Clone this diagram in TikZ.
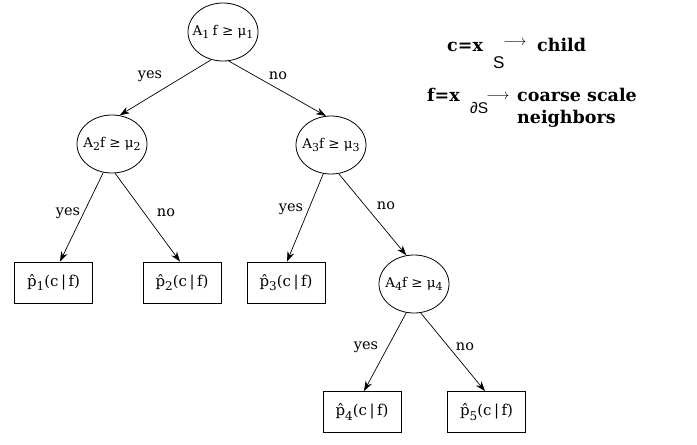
\documentclass[tikz,border=0pt]{standalone}
\usepackage{fontspec}
\setmainfont{DejaVu Serif}
\newfontfamily\sansf{Liberation Sans}
\newfontfamily\boldserif{DejaVu Serif}
\usetikzlibrary{arrows.meta,shapes.geometric}
\newcommand{\lsub}[1]{\raisebox{-0.45ex}{\fontsize{11}{11}\selectfont #1}}
\newcommand{\phat}[1]{\^{p}\raisebox{-0.6ex}{\fontsize{12}{12}\selectfont #1}(c\,|\,f)}
\newcommand{\ctext}[1]{\makebox[0pt]{#1}}
\begin{document}
\begin{tikzpicture}[x=1pt,y=-1pt,
  test/.style={draw,line width=0.8pt,ellipse,minimum width=70pt,minimum height=58pt,inner sep=0pt,font=\fontsize{13.5}{14}\selectfont},
  leaf/.style={draw,line width=0.8pt,rectangle,minimum width=78pt,minimum height=41pt,inner sep=0pt,font=\fontsize{15}{16}\selectfont},
  edge/.style={-{Stealth[length=10pt,width=7pt]},line width=0.7pt},
  lab/.style={font=\fontsize{14.5}{15}\selectfont},
  rt/.style={font=\fontsize{17.5}{19}\selectfont\boldserif\bfseries,anchor=base west,inner sep=0pt},
  rs/.style={font=\fontsize{17}{17}\selectfont\sansf,anchor=base west,inner sep=0pt},
  ra/.style={font=\fontsize{15}{15}\selectfont,anchor=center,inner sep=0pt}]
\useasboundingbox (0,0) rectangle (697,445);
\node[test] (n1) at (223,32) {\ctext{A\lsub{1}\hspace{0.25em}f ≥ μ\lsub{1}}};
\node[test] (n2) at (112,144) {\ctext{A\lsub{2}f ≥ μ\lsub{2}}};
\node[test] (n3) at (331,145) {\ctext{A\lsub{3}f ≥ μ\lsub{3}}};
\node[test] (n4) at (414,284) {\ctext{A\lsub{4}f ≥ μ\lsub{4}}};
\node[leaf] (p1) at (53.5,282.5) {\phat{1}};
\node[leaf] (p2) at (182,282.5) {\phat{2}};
\node[leaf] (p3) at (286,282.5) {\phat{3}};
\node[leaf] (p4) at (362,412) {\phat{4}};
\node[leaf] (p5) at (486.5,412) {\phat{5}};
\draw[edge] (n1.247) -- (n2.75);
\draw[edge] (n1.281) -- (n3.100);
\draw[edge] (n2.253) -- (p1.north -| 60,0);
\draw[edge] (n2.276) -- (p2.north -| 180,0);
\draw[edge] (n3.255) -- (p3.north -| 287,0);
\draw[edge] (n3.285) -- (n4.105);
\draw[edge] (n4.255) -- (p4.north -| 364,0);
\draw[edge] (n4.283) -- (p5.north -| 485,0);
\node[lab] (y1) at (150,76) {yes};
\node[lab] (o1) at (278,76) {no};
\node[lab] (y2) at (68,213) {yes};
\node[lab] (o2) at (166,213) {no};
\node[lab] (y3) at (291,209) {yes};
\node[lab] (o3) at (386,206) {no};
\node[lab] (y4) at (366,347) {yes};
\node[lab] (o4) at (465,347) {no};
\node[rt] (c1) at (447,51) {c=x};
\node[rs] (s1) at (493,68) {S};
\node[ra] (a1) at (515,43) {$\longrightarrow$};
\node[rt] (ch) at (537,51) {child};
\node[rt] (f1) at (427,101) {f=x};
\node[rs,font=\fontsize{15.5}{15}\selectfont\sansf] (s2) at (470,113) {∂S};
\node[ra] (a2) at (498,97) {$\longrightarrow$};
\node[rt] (cs) at (517,101) {coarse scale};
\node[rt] (nb) at (517,123) {neighbors};
\end{tikzpicture}
\end{document}
